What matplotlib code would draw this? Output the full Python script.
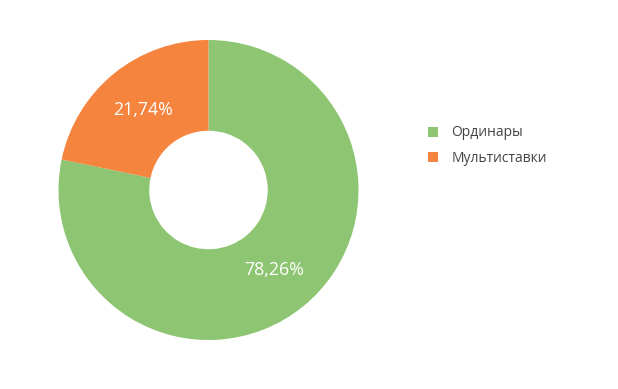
import matplotlib.pyplot as plt
from matplotlib.lines import Line2D

# доли ставок
categories = ["Ординары", "Мультиставки"]
values = [78.26, 21.74]
colors = ["#8dc572", "#f5843e"]

plt.rcParams["font.family"] = ["Open Sans", "DejaVu Sans"]

fig = plt.figure(figsize=(6.18, 3.89), dpi=100)
ax = fig.add_axes([58.5 / 618, 49 / 389, 300 / 618, 300 / 389])

wedges, texts, autotexts = ax.pie(
    values, colors=colors, startangle=90, counterclock=False,
    radius=1, wedgeprops=dict(width=0.605, linewidth=0),
    autopct=lambda p: ("%.2f%%" % p).replace(".", ","), pctdistance=0.69,
    textprops=dict(color="white", fontsize=12.8))
ax.set_xlim(-1, 1)
ax.set_ylim(-1, 1)
ax.set_aspect("equal")

handles = [Line2D([], [], marker="s", linestyle="", markersize=7,
                  markerfacecolor=c, markeredgewidth=0) for c in colors]
leg = fig.legend(handles, categories, loc="upper left",
                 bbox_to_anchor=(414 / 618, 1 - 113 / 389), frameon=False,
                 fontsize=10, handletextpad=0.8, labelspacing=0.75,
                 handlelength=1.0)
for t in leg.get_texts():
    t.set_color("#444444")

fig.savefig("out.png", dpi=100)
